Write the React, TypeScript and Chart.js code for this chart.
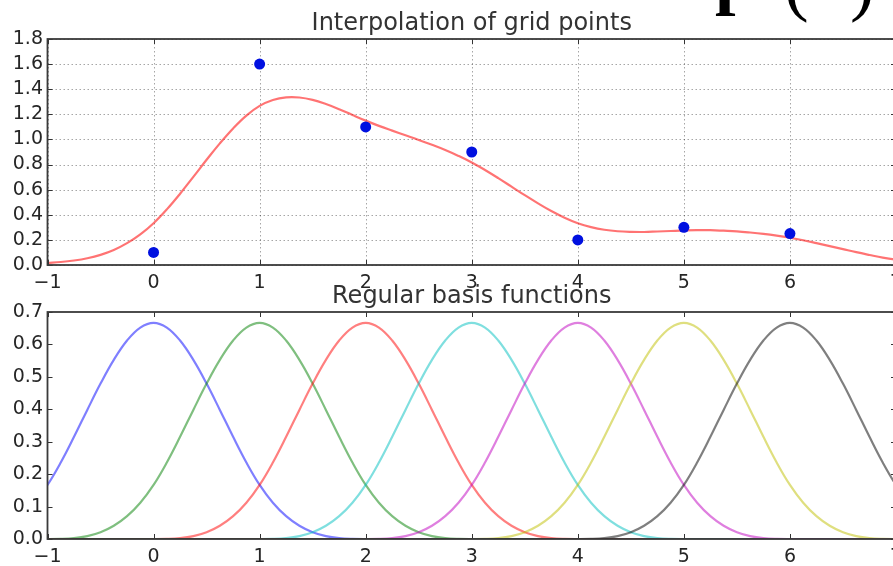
import React, { useEffect, useRef } from 'react';
import { Chart, registerables } from 'chart.js';

Chart.register(...registerables);

// ---- data ----
const xTicks = [-1, 0, 1, 2, 3, 4, 5, 6, 7];
const xTickLabels = ['\u22121', '0', '1', '2', '3', '4', '5', '6', '7'];
const topYTicks = [0, 0.2, 0.4, 0.6, 0.8, 1.0, 1.2, 1.4, 1.6, 1.8];
const bottomYTicks = [0, 0.1, 0.2, 0.3, 0.4, 0.5, 0.6, 0.7];

const topTitle = 'Interpolation of grid points';
const bottomTitle = 'Regular basis functions';

const gridX = [0, 1, 2, 3, 4, 5, 6];
const gridY = [0.1, 1.6, 1.1, 0.9, 0.2, 0.3, 0.25];

const curveX = [
  -1, -0.875, -0.75, -0.625, -0.5, -0.375, -0.25, -0.125,
  0, 0.125, 0.25, 0.375, 0.5, 0.625, 0.75, 0.875,
  1, 1.125, 1.25, 1.375, 1.5, 1.625, 1.75, 1.875,
  2, 2.125, 2.25, 2.375, 2.5, 2.625, 2.75, 2.875,
  3, 3.125, 3.25, 3.375, 3.5, 3.625, 3.75, 3.875,
  4, 4.125, 4.25, 4.375, 4.5, 4.625, 4.75, 4.875,
  5, 5.125, 5.25, 5.375, 5.5, 5.625, 5.75, 5.875,
  6, 6.125, 6.25, 6.375, 6.5, 6.625, 6.75, 6.875,
  7, 7.125, 7.25,
];
const curveY = [
  0.017, 0.024, 0.036, 0.054, 0.081, 0.12, 0.174, 0.244,
  0.333, 0.443, 0.568, 0.702, 0.838, 0.969, 1.088, 1.19,
  1.267, 1.314, 1.335, 1.334, 1.315, 1.282, 1.241, 1.195,
  1.15, 1.108, 1.07, 1.033, 0.996, 0.957, 0.916, 0.869,
  0.817, 0.757, 0.692, 0.624, 0.556, 0.491, 0.43, 0.377,
  0.333, 0.302, 0.281, 0.269, 0.264, 0.263, 0.267, 0.271,
  0.275, 0.277, 0.277, 0.273, 0.268, 0.259, 0.248, 0.234,
  0.217, 0.197, 0.174, 0.15, 0.126, 0.102, 0.08, 0.059,
  0.042, 0.028, 0.018,
];

// one basis bump, read relative to its centre
const basisOffsets = [
  -2.25, -2, -1.875, -1.75, -1.625, -1.5, -1.375, -1.25, -1.125,
  -1, -0.875, -0.75, -0.625, -0.5, -0.375, -0.25, -0.125,
  0, 0.125, 0.25, 0.375, 0.5, 0.625, 0.75, 0.875,
  1, 1.125, 1.25, 1.375, 1.5, 1.625, 1.75, 1.875, 2, 2.25,
];
const basisShape = [
  0, 0, 0.0003, 0.0026, 0.0088, 0.0208, 0.0407, 0.0703, 0.1117,
  0.1667, 0.236, 0.3151, 0.3981, 0.4792, 0.5524, 0.612, 0.652,
  0.6667, 0.652, 0.612, 0.5524, 0.4792, 0.3981, 0.3151, 0.236,
  0.1667, 0.1117, 0.0703, 0.0407, 0.0208, 0.0088, 0.0026, 0.0003, 0, 0,
];
const basisCenters = [0, 1, 2, 3, 4, 5, 6];
const basisColors = [
  'rgba(0,0,255,0.5)',
  'rgba(0,128,0,0.5)',
  'rgba(255,0,0,0.5)',
  'rgba(0,191,191,0.5)',
  'rgba(191,0,191,0.5)',
  'rgba(191,191,0,0.5)',
  'rgba(0,0,0,0.5)',
];

const FONT = "'DejaVu Sans', sans-serif";
const TICK_COLOR = '#262626';

const mplPlugin = {
  id: 'mpl',
  beforeDatasetsDraw(chart: any, _args: any, opts: any) {
    if (!opts.grid) return;
    const { ctx, chartArea: a, scales } = chart;
    const x = scales.x;
    const y = scales.y;
    ctx.save();
    ctx.strokeStyle = 'rgba(0,0,0,0.35)';
    ctx.lineWidth = 1;
    ctx.setLineDash([1.5, 2.5]);
    x.ticks.forEach((t: any) => {
      const px = Math.round(x.getPixelForValue(t.value)) + 0.5;
      ctx.beginPath();
      ctx.moveTo(px, a.top);
      ctx.lineTo(px, a.bottom);
      ctx.stroke();
    });
    y.ticks.forEach((t: any) => {
      const py = Math.round(y.getPixelForValue(t.value)) + 0.5;
      ctx.beginPath();
      ctx.moveTo(a.left, py);
      ctx.lineTo(a.right, py);
      ctx.stroke();
    });
    ctx.restore();
  },
  afterDatasetsDraw(chart: any, _args: any, opts: any) {
    const { ctx, chartArea: a, scales } = chart;
    const x = scales.x;
    const y = scales.y;
    ctx.save();
    ctx.setLineDash([]);
    ctx.strokeStyle = '#333';
    ctx.lineWidth = 1;
    const tl = 5;
    x.ticks.forEach((t: any) => {
      const px = Math.round(x.getPixelForValue(t.value)) + 0.5;
      ctx.beginPath();
      ctx.moveTo(px, a.bottom);
      ctx.lineTo(px, a.bottom - tl);
      ctx.moveTo(px, a.top);
      ctx.lineTo(px, a.top + tl);
      ctx.stroke();
    });
    y.ticks.forEach((t: any) => {
      const py = Math.round(y.getPixelForValue(t.value)) + 0.5;
      ctx.beginPath();
      ctx.moveTo(a.left, py);
      ctx.lineTo(a.left + tl, py);
      ctx.moveTo(a.right, py);
      ctx.lineTo(a.right - tl, py);
      ctx.stroke();
    });
    ctx.lineWidth = 1.8;
    ctx.strokeStyle = '#3a3a3a';
    ctx.strokeRect(a.left, a.top, a.right - a.left, a.bottom - a.top);

    if (opts.title) {
      ctx.fillStyle = '#333';
      ctx.font = `${opts.titleSize}px ${FONT}`;
      ctx.textAlign = 'center';
      ctx.textBaseline = 'alphabetic';
      ctx.fillText(opts.title, (a.left + a.right) / 2, a.top - 9);
    }
    if (opts.formula) {
      ctx.fillStyle = '#000';
      ctx.textAlign = 'left';
      ctx.textBaseline = 'alphabetic';
      ctx.font = "bold 72px 'Liberation Serif', serif";
      ctx.fillText('f', 714, 16);
      ctx.font = "74px 'Liberation Serif', serif";
      ctx.fillText('(', 784, 7);
      ctx.fillText(')', 850, 7);
    }
    ctx.restore();
  },
};

function makeOptions(
  yMin: number,
  yMax: number,
  yTicks: number[],
  padTop: number,
  padBottom: number,
  xAxisHeight: number,
  mpl: any
): any {
  return {
    animation: false,
    responsive: false,
    devicePixelRatio: 1,
    layout: {
      autoPadding: false,
      padding: { left: 0, right: 24, top: padTop, bottom: padBottom },
    },
    plugins: {
      legend: { display: false },
      tooltip: { enabled: false },
      title: { display: false },
      mpl,
    },
    scales: {
      x: {
        type: 'linear',
        min: -1,
        max: 7,
        afterBuildTicks: (s: any) => {
          s.ticks = xTicks.map((v) => ({ value: v }));
        },
        afterFit: (s: any) => {
          s.height = xAxisHeight;
        },
        ticks: {
          autoSkip: false,
          maxRotation: 0,
          padding: 7,
          color: TICK_COLOR,
          font: { family: FONT, size: 19 },
          callback: (_v: any, i: number) => xTickLabels[i],
        },
        grid: { display: false, drawTicks: false },
        border: { display: false },
      },
      y: {
        type: 'linear',
        min: yMin,
        max: yMax,
        afterBuildTicks: (s: any) => {
          s.ticks = yTicks.map((v) => ({ value: v }));
        },
        afterFit: (s: any) => {
          s.width = 47.5;
        },
        ticks: {
          autoSkip: false,
          padding: 4.5,
          color: TICK_COLOR,
          font: { family: FONT, size: 19 },
          callback: (v: any) => Number(v).toFixed(1),
        },
        grid: { display: false, drawTicks: false },
        border: { display: false },
      },
    },
  };
}

export default function App() {
  const topRef = useRef<HTMLCanvasElement | null>(null);
  const botRef = useRef<HTMLCanvasElement | null>(null);

  useEffect(() => {
    const topChart = new Chart(topRef.current as HTMLCanvasElement, {
      type: 'scatter',
      data: {
        datasets: [
          {
            data: gridX.map((x, i) => ({ x, y: gridY[i] })),
            showLine: false,
            pointRadius: 5.5,
            pointBackgroundColor: '#0010e0',
            pointBorderWidth: 0,
          } as any,
          {
            data: curveX.map((x, i) => ({ x, y: curveY[i] })),
            showLine: true,
            pointRadius: 0,
            borderColor: 'rgba(255,0,0,0.55)',
            borderWidth: 2.2,
            tension: 0.4,
          } as any,
        ],
      },
      options: makeOptions(0, 1.8, topYTicks, 39, 5, 30, {
        grid: true,
        title: topTitle,
        titleSize: 24,
        formula: true,
      }),
      plugins: [mplPlugin as any],
    });

    const basisSets = basisCenters.map((c, k) => ({
      data: [{ x: Math.min(-1.5, c - 3), y: 0 }]
        .concat(basisOffsets.map((t, i) => ({ x: c + t, y: basisShape[i] })))
        .concat([{ x: Math.max(7.5, c + 3), y: 0 }]),
      showLine: true,
      pointRadius: 0,
      borderColor: basisColors[k],
      borderWidth: 2.2,
      tension: 0.4,
      order: basisCenters.length - k,
    }));

    const botChart = new Chart(botRef.current as HTMLCanvasElement, {
      type: 'scatter',
      data: { datasets: basisSets as any },
      options: makeOptions(0, 0.7, bottomYTicks, 42, 0, 27, {
        grid: false,
        title: bottomTitle,
        titleSize: 24,
        formula: false,
      }),
      plugins: [mplPlugin as any],
    });

    return () => {
      topChart.destroy();
      botChart.destroy();
    };
  }, []);

  return (
    <div
      style={{
        position: 'fixed',
        left: 0,
        top: 0,
        width: 893,
        height: 566,
        overflow: 'hidden',
        background: '#fff',
      }}
    >
      <canvas
        ref={topRef}
        width={920}
        height={300}
        style={{ position: 'absolute', left: 0, top: 0, width: 920, height: 300 }}
      />
      <canvas
        ref={botRef}
        width={920}
        height={296}
        style={{ position: 'absolute', left: 0, top: 270, width: 920, height: 296 }}
      />
    </div>
  );
}
